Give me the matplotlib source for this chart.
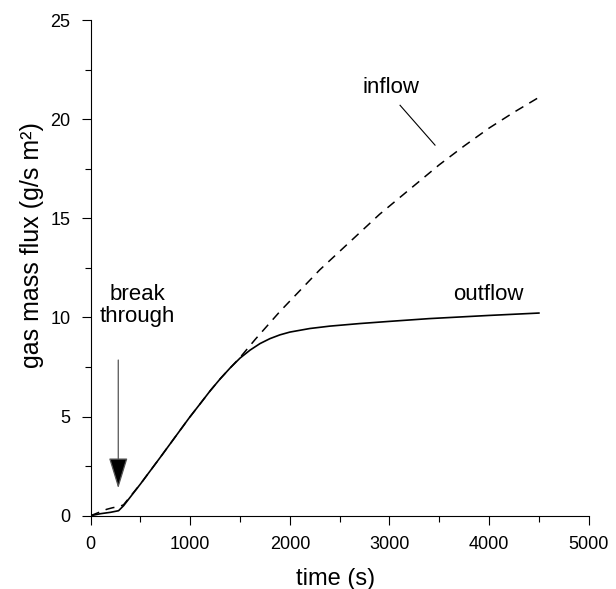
import matplotlib
matplotlib.use("Agg")
from matplotlib import pyplot as plt
from matplotlib.ticker import MultipleLocator

plt.rcParams['font.family'] = ['Liberation Sans', 'DejaVu Sans']

# outflow (solid)
t_out = [0, 100, 200, 280, 330, 500, 700, 990, 1100, 1200, 1300, 1400, 1500, 1600,
         1700, 1800, 1900, 2000, 2200, 2400, 2700, 3000, 3400, 4000, 4500]
v_out = [0, 0.1, 0.17, 0.25, 0.5, 1.6, 2.95, 4.94, 5.65, 6.3, 6.9, 7.45, 7.95, 8.35,
         8.68, 8.93, 9.12, 9.26, 9.44, 9.56, 9.69, 9.8, 9.94, 10.1, 10.22]

# inflow (dashed)
t_in = [0, 100, 160, 220, 294, 330, 500, 700, 990, 1100, 1200, 1300, 1400, 1500, 1650,
        1900, 2300, 2900, 3200, 3500, 3750, 4000, 4250, 4500]
v_in = [0, 0.2, 0.32, 0.4, 0.47, 0.55, 1.6, 2.95, 4.94, 5.65, 6.3, 6.9, 7.45, 7.98, 8.88,
        10.3, 12.4, 15.2, 16.45, 17.7, 18.65, 19.55, 20.35, 21.1]

fig = plt.figure(figsize=(6.16, 5.89), dpi=100)
ax = fig.add_axes([0.1472, 0.1245, 0.8085, 0.8415])

ax.plot(t_in, v_in, color='black', lw=1.1, dashes=(6, 4.5))
ax.plot(t_out, v_out, color='black', lw=1.2)

ax.set_xlim(0, 5000)
ax.set_ylim(0, 25)
ax.xaxis.set_major_locator(MultipleLocator(1000))
ax.xaxis.set_minor_locator(MultipleLocator(500))
ax.yaxis.set_major_locator(MultipleLocator(5))
ax.yaxis.set_minor_locator(MultipleLocator(2.5))
ax.tick_params(which='major', direction='out', length=6.5, width=0.8, labelsize=13, pad=8)
ax.tick_params(which='minor', direction='out', length=4.5, width=0.8)

for s in ['top', 'right']:
    ax.spines[s].set_visible(False)
for s in ['left', 'bottom']:
    ax.spines[s].set_linewidth(0.8)

# axis labels
fig.text(336 / 616, 1 - 579 / 589, "time (s)", fontsize=17, ha='center', va='center')
fig.text(32.5 / 616, 1 - 245 / 589, "gas mass flux (g/s m²)", fontsize=18,
         rotation=90, ha='center', va='center')

# annotations
ax.text(3015, 21.6, "inflow", fontsize=16, ha='center', va='center')
ax.plot([3106, 3457], [20.7, 18.69], color='black', lw=0.8)
ax.text(3990, 11.18, "outflow", fontsize=16, ha='center', va='center')
ax.text(472, 10.6, "break\nthrough", fontsize=16, ha='center', va='center', linespacing=1.1)
ax.annotate("", xy=(277, 1.38), xytext=(277, 7.85),
            arrowprops=dict(arrowstyle='-|>,head_length=1.95,head_width=0.6',
                            mutation_scale=10, facecolor='black', edgecolor='#555555',
                            lw=0.9, shrinkA=0, shrinkB=0))

plt.savefig("out.png")
